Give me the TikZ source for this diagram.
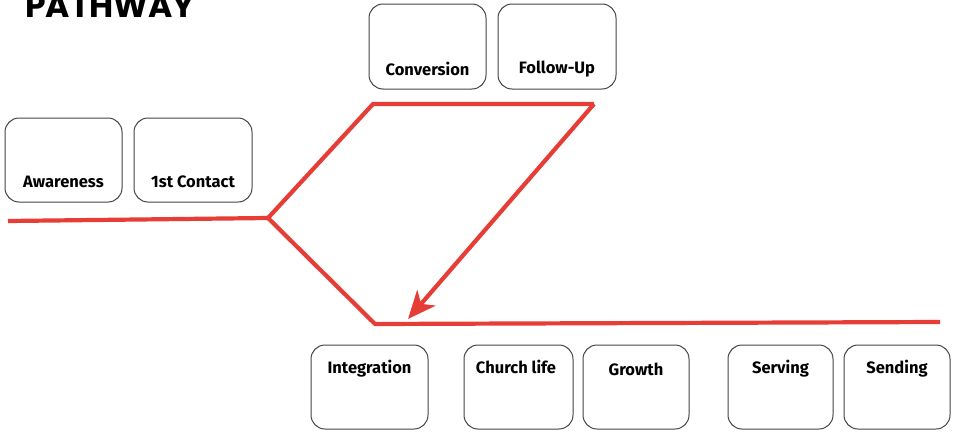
\documentclass[tikz,border=0pt]{standalone}
\usepackage{fontspec}
\setmainfont{Fira Sans}
\newfontfamily\titlefont{Poppins}
\usetikzlibrary{arrows.meta}
\definecolor{pathred}{HTML}{E63E36}
\definecolor{boxgray}{HTML}{444444}
\begin{document}
\begin{tikzpicture}[x=1pt,y=-1pt,
  stage/.style={draw=boxgray,line width=1pt,rounded corners=14pt,fill=white},
  lbl/.style={font=\fontsize{16.5}{18}\selectfont\bfseries,text=black,inner sep=0pt},
  pathline/.style={draw=pathred,line width=4.2pt,line join=miter}]
\useasboundingbox (0,0) rectangle (955,431);
\node[font=\titlefont\fontsize{33}{35}\selectfont\bfseries,anchor=base west,inner sep=0pt] (title) at (25,17) {PATHWAY};
% boxes
\draw[stage] (5,118) rectangle (122,202); \node[lbl] (awareness) at (63.5,182) {Awareness};
\draw[stage] (134,118) rectangle (252,202); \node[lbl] (contact) at (193,182) {1st Contact};
\draw[stage] (369,4) rectangle (486,89); \node[lbl] (conversion) at (427.5,69) {Conversion};
\draw[stage] (498,4) rectangle (616,89); \node[lbl] (followup) at (557,69) {Follow-Up};
\draw[stage] (311,345) rectangle (428,429); \node[lbl] (integration) at (369.5,369) {Integration};
\draw[stage] (464,345) rectangle (573,429); \node[lbl] (church) at (516,367) {Church life};
\draw[stage] (583,345) rectangle (689,429); \node[lbl] (growth) at (636,369) {Growth};
\draw[stage] (728,345) rectangle (833,429); \node[lbl] (serving) at (780.5,369) {Serving};
\draw[stage] (844,345) rectangle (950,429); \node[lbl] (sending) at (897,369) {Sending};
% path
\coordinate (start) at (8,221);
\coordinate (junc) at (268,218);
\coordinate (topl) at (373,104);
\coordinate (topr) at (594,104);
\coordinate (tip) at (408,319);
\coordinate (botl) at (375,324);
\coordinate (endr) at (940,322);
\draw[pathline] (start) -- (junc) -- (topl) -- (topr);
\draw[pathline,-{Stealth[length=28pt,width=24pt,inset=8pt]}] (topr) -- (tip);
\draw[pathline] (junc) -- (botl) -- (endr);
\end{tikzpicture}
\end{document}
